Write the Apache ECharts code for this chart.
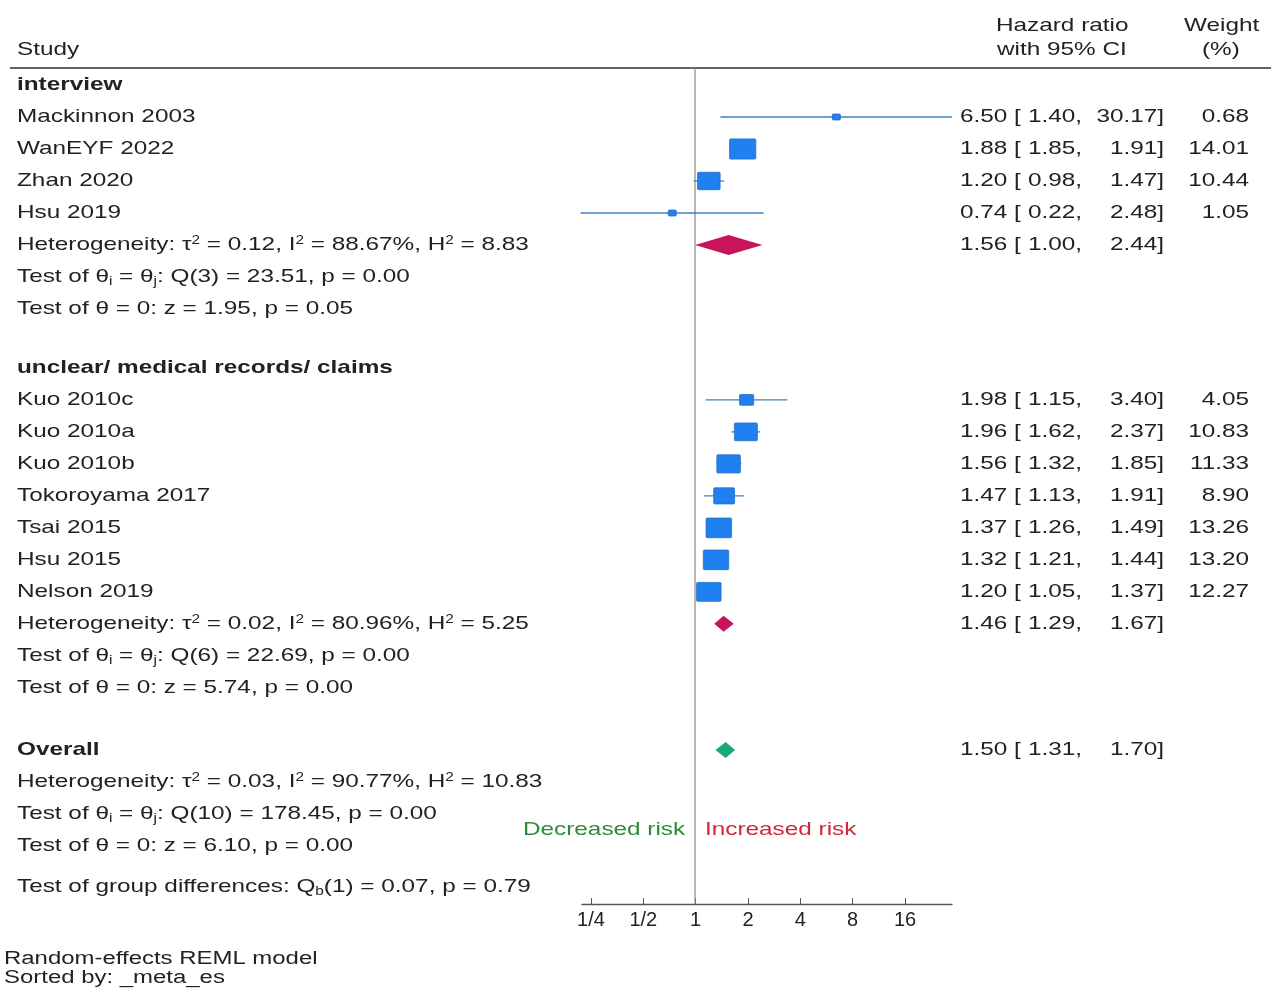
<!DOCTYPE html>
<html><head><meta charset="utf-8">
<script src="https://cdn.jsdelivr.net/npm/echarts@6/dist/echarts.min.js"></script>
<style>html,body{margin:0;padding:0;background:#fff}#c{width:1280px;height:997px}</style>
</head><body><div id="c"></div>
<script>
// ---- data ----
const studyNames = ['Mackinnon 2003','WanEYF 2022','Zhan 2020','Hsu 2019',
  'Kuo 2010c','Kuo 2010a','Kuo 2010b','Tokoroyama 2017','Tsai 2015','Hsu 2015','Nelson 2019'];
const studyRows = [1,2,3,4, 9.84,10.84,11.84,12.84,13.84,14.84,15.84];
const hr    = [6.50,1.88,1.20,0.74, 1.98,1.96,1.56,1.47,1.37,1.32,1.20];
const lower = [1.40,1.85,0.98,0.22, 1.15,1.62,1.32,1.13,1.26,1.21,1.05];
const upper = [30.17,1.91,1.47,2.48, 3.40,2.37,1.85,1.91,1.49,1.44,1.37];
const weight= [0.68,14.01,10.44,1.05, 4.05,10.83,11.33,8.90,13.26,13.20,12.27];

const poolLabels = ['interview','unclear','Overall'];
const poolRows = [5,16.84,20.78];
const poolHr = [1.56,1.46,1.50];
const poolLo = [1.00,1.29,1.31];
const poolHi = [2.44,1.67,1.70];
const poolColors = ['#c8145a','#c8145a','#1aaa7a'];

const tickLabels = ['1/4','1/2','1','2','4','8','16'];

const leftText = [
  [0,'interview',true],
  [5,'Heterogeneity: τ{sup|2} = 0.12, I{sup|2} = 88.67%, H{sup|2} = 8.83',false],
  [6,'Test of θ{sub|i} = θ{sub|j}: Q(3) = 23.51, p = 0.00',false],
  [7,'Test of θ = 0: z = 1.95, p = 0.05',false],
  [8.84,'unclear/ medical records/ claims',true],
  [16.84,'Heterogeneity: τ{sup|2} = 0.02, I{sup|2} = 80.96%, H{sup|2} = 5.25',false],
  [17.84,'Test of θ{sub|i} = θ{sub|j}: Q(6) = 22.69, p = 0.00',false],
  [18.84,'Test of θ = 0: z = 5.74, p = 0.00',false],
  [20.78,'Overall',true],
  [21.78,'Heterogeneity: τ{sup|2} = 0.03, I{sup|2} = 90.77%, H{sup|2} = 10.83',false],
  [22.78,'Test of θ{sub|i} = θ{sub|j}: Q(10) = 178.45, p = 0.00',false],
  [23.78,'Test of θ = 0: z = 6.10, p = 0.00',false],
  [25.06,'Test of group differences: Q{sub|b}(1) = 0.07, p = 0.79',false]
];

const L2 = v => Math.log2(v);
const FONT = '"Liberation Sans", Arial, sans-serif';
const XMIN = -2.16, XMAX = 4.91;
const SX = 1.28;
const f2 = v => v.toFixed(2);

const rich = {
  sup:{fontSize:12, fontFamily:FONT, fill:'#222', padding:[0,0,9,0]},
  sub:{fontSize:12, fontFamily:FONT, fill:'#222', padding:[9,0,0,0]}
};

const textData = [];
leftText.forEach(t => textData.push([0, t[0], t[1], t[2] ? 1 : 0, -1]));
studyNames.forEach((n,i) => textData.push([0, studyRows[i], n, 0, i]));
poolRows.forEach((r,i)=>textData.push([0, r, '', 0, 100+i]));

function txt(x,y,text,extra){
  return {type:'text',x:x,y:y,scaleX:SX,scaleY:1,
    style:Object.assign({x:0,y:0,text:text,fontFamily:FONT,fontSize:19,fill:'#222',verticalAlign:'middle',rich:rich},extra||{})};
}

const chart = echarts.init(document.getElementById('c'));
chart.setOption({
  animation:false,
  grid:[{left:582,right:328,top:0,bottom:93},{left:591,right:375,top:0,bottom:93}],
  xAxis:[
    {gridIndex:0,type:'value',min:XMIN,max:XMAX,position:'bottom',axisLine:{show:true,onZero:false,lineStyle:{color:'#555',width:1.3}},
     axisTick:{show:false},axisLabel:{show:false},splitLine:{show:false}},
    {gridIndex:1,type:'value',min:-2,max:4,interval:1,position:'bottom',axisLine:{show:true,onZero:false,lineStyle:{color:'rgba(0,0,0,0)'}},
     axisTick:{show:true,length:6,inside:true,lineStyle:{color:'#555'}},splitLine:{show:false},
     axisLabel:{margin:6,fontSize:20,fontFamily:FONT,color:'#222',formatter:v=>tickLabels[Math.round(v)+2]}}
  ],
  yAxis:[
    {gridIndex:0,type:'value',inverse:true,min:-2.656,max:25.594,show:false},
    {gridIndex:1,type:'value',inverse:true,min:-2.656,max:25.594,show:false}
  ],
  series:[
    {
      type:'custom',xAxisIndex:0,yAxisIndex:0,data:[[0]],
      renderItem:(p,api)=>{
        const a=api.coord([0,-0.53]), b=api.coord([0,25.594]);
        return {type:'line',shape:{x1:a[0],y1:a[1],x2:b[0],y2:b[1]},style:{stroke:'#888',lineWidth:1.2}};
      }
    },
    {
      type:'custom',xAxisIndex:0,yAxisIndex:0,
      data:hr.map((v,i)=>[L2(v),L2(lower[i]),Math.min(L2(upper[i]),XMAX),weight[i],studyRows[i]]),
      renderItem:(p,api)=>{
        const c=api.coord([api.value(0),api.value(4)]);
        const lo=api.coord([api.value(1),api.value(4)]);
        const hi=api.coord([api.value(2),api.value(4)]);
        const s=Math.sqrt(api.value(3));
        const w=Math.max(8,7*s), h=Math.max(6,5.4*s);
        return {type:'group',children:[
          {type:'line',shape:{x1:lo[0],y1:c[1],x2:hi[0],y2:c[1]},style:{stroke:'#3d7fc0',lineWidth:1.3}},
          {type:'rect',shape:{x:c[0]-w/2,y:c[1]-h/2,width:w,height:h,r:1},style:{fill:'#1f80ef',stroke:'#2a6fc4',lineWidth:0.8}}
        ]};
      }
    },
    {
      type:'custom',xAxisIndex:0,yAxisIndex:0,
      data:poolHr.map((v,i)=>[L2(v),L2(poolLo[i]),L2(poolHi[i]),poolRows[i],i]),
      renderItem:(p,api)=>{
        const i=api.value(4);
        const c=api.coord([api.value(0),api.value(3)]);
        const lo=api.coord([api.value(1),api.value(3)]);
        const hi=api.coord([api.value(2),api.value(3)]);
        const hh = i===0?10:8;
        return {type:'polygon',shape:{points:[[lo[0],c[1]],[c[0],c[1]-hh],[hi[0],c[1]],[c[0],c[1]+hh]]},
          style:{fill:poolColors[i]}};
      }
    },
    {
      type:'custom',xAxisIndex:0,yAxisIndex:0,data:textData,
      renderItem:(p,api)=>{
        const d=textData[p.dataIndex];
        const y=api.coord([0,d[1]])[1];
        const ch=[];
        if(d[2]) ch.push(txt(17,y,d[2],{fontWeight:d[3]?'bold':'normal'}));
        const k=d[4];
        let e,l,u,wt;
        if(k>=0 && k<100){e=hr[k];l=lower[k];u=upper[k];wt=f2(weight[k]);}
        else if(k>=100){e=poolHr[k-100];l=poolLo[k-100];u=poolHi[k-100];}
        if(e!==undefined){
          ch.push(txt(960,y,f2(e)+' ['));
          ch.push(txt(1082,y,f2(l)+',',{align:'right'}));
          ch.push(txt(1164,y,f2(u)+']',{align:'right'}));
          if(wt) ch.push(txt(1249,y,wt,{align:'right'}));
        }
        return {type:'group',children:ch};
      }
    }
  ],
  graphic:[
    {type:'text',x:996,y:16,scaleX:SX,style:{text:'Hazard ratio',fontFamily:FONT,fontSize:19,fill:'#222'}},
    {type:'text',x:997,y:40,scaleX:SX,style:{text:'with 95% CI',fontFamily:FONT,fontSize:19,fill:'#222'}},
    {type:'text',x:1184,y:16,scaleX:SX,style:{text:'Weight',fontFamily:FONT,fontSize:19,fill:'#222'}},
    {type:'text',x:1202,y:40,scaleX:SX,style:{text:'(%)',fontFamily:FONT,fontSize:19,fill:'#222'}},
    {type:'text',x:17,y:40,scaleX:SX,style:{text:'Study',fontFamily:FONT,fontSize:19,fill:'#222'}},
    {type:'line',shape:{x1:10,y1:68,x2:1271,y2:68},style:{stroke:'#333',lineWidth:1.5}},
    {type:'text',x:523,y:820,scaleX:SX,style:{text:'Decreased risk',fontFamily:FONT,fontSize:19,fill:'#2e8b3a'}},
    {type:'text',x:705,y:820,scaleX:SX,style:{text:'Increased risk',fontFamily:FONT,fontSize:19,fill:'#d0263e'}},
    {type:'text',x:4,y:950,scaleX:1.33,style:{text:'Random-effects REML model',fontFamily:FONT,fontSize:18,fill:'#222'}},
    {type:'text',x:4,y:969,scaleX:1.33,style:{text:'Sorted by: _meta_es',fontFamily:FONT,fontSize:18,fill:'#222'}}
  ]
});
</script></body></html>
